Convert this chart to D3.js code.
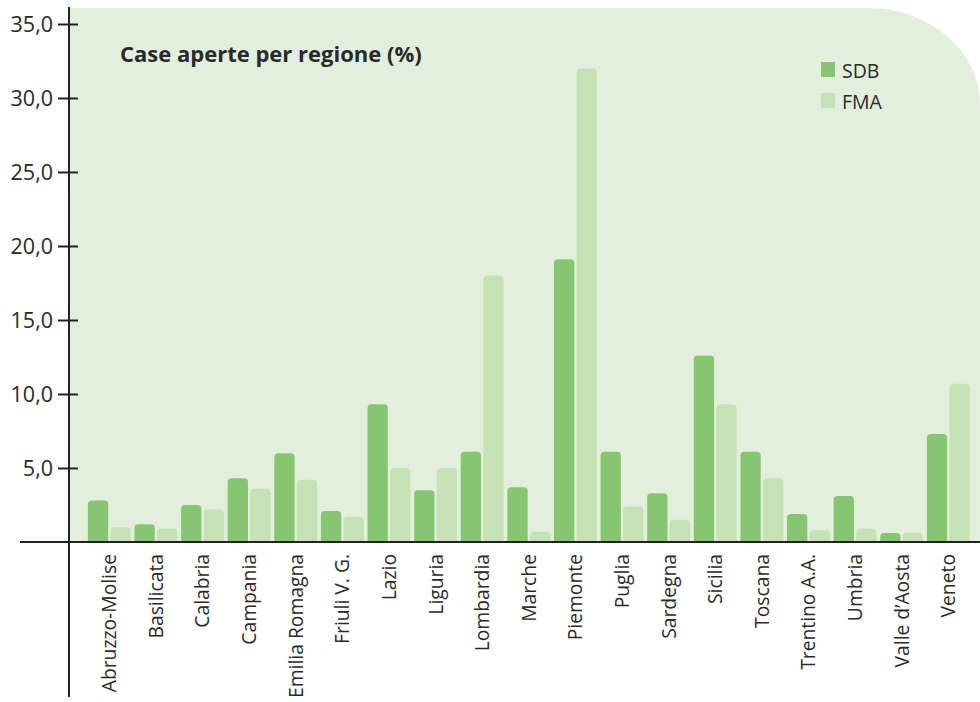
<!DOCTYPE html>
<html>
<head>
<meta charset="utf-8">
<script src="https://cdn.jsdelivr.net/npm/d3@7"></script>
<style>
  body { margin: 0; background: #fff; }
  svg { display: block; font-family: "Open Sans", sans-serif; }
</style>
</head>
<body>
<svg id="chart" width="980" height="702"></svg>
<script>
const regions = ["Abruzzo-Molise", "Basilicata", "Calabria", "Campania", "Emilia Romagna",
  "Friuli V. G.", "Lazio", "Liguria", "Lombardia", "Marche", "Piemonte", "Puglia",
  "Sardegna", "Sicilia", "Toscana", "Trentino A.A.", "Umbria", "Valle d\u2019Aosta", "Veneto"];
const sdb = [2.8, 1.2, 2.5, 4.3, 6.0, 2.1, 9.3, 3.5, 6.1, 3.7, 19.1, 6.1, 3.3, 12.6, 6.1, 1.9, 3.1, 0.6, 7.3];
const fma = [1.0, 0.9, 2.2, 3.6, 4.2, 1.7, 5.0, 5.0, 18.0, 0.7, 32.0, 2.4, 1.5, 9.3, 4.3, 0.8, 0.9, 0.6, 10.7];
const series = ["SDB", "FMA"];
const yTicks = [5, 10, 15, 20, 25, 30, 35];

const colors = { SDB: "#86c670", FMA: "#c4e2b4" };

const svg = d3.select("#chart");
const axisX = 69, baseY = 542;

const y = d3.scaleLinear().domain([0, 35]).range([baseY, 24]);
const x0 = d3.scaleBand().domain(regions).range([86, 86 + 19 * 46.61])
  .paddingInner(0.08).paddingOuter(0.04);
const x1 = d3.scaleBand().domain(series).range([0, x0.bandwidth()]).paddingInner(0.1);

// background panel with rounded top-right corner
const px0 = axisX + 1, py0 = 8, px1 = 980, rx = 112, ry = 96;
svg.append("path")
  .attr("d", `M${px0},${py0} H${px1 - rx} A${rx},${ry} 0 0 1 ${px1},${py0 + ry} V${baseY} H${px0} Z`)
  .attr("fill", "#e3efdd");

// bars with rounded tops
function barPath(bx, by, w, h, r) {
  r = Math.min(r, h, w / 2);
  return `M${bx},${by + h} V${by + r} Q${bx},${by} ${bx + r},${by} H${bx + w - r} Q${bx + w},${by} ${bx + w},${by + r} V${by + h} Z`;
}

const rows = regions.map((r, i) => ({ region: r, SDB: sdb[i], FMA: fma[i] }));
const g = svg.append("g").selectAll("g").data(rows).join("g")
  .attr("transform", d => `translate(${x0(d.region)},0)`);
g.selectAll("path").data(d => series.map(k => ({ key: k, value: d[k] }))).join("path")
  .attr("fill", d => colors[d.key])
  .attr("d", d => barPath(x1(d.key), y(d.value), x1.bandwidth(), baseY - y(d.value), 4));

// y axis
const yAxis = d3.axisLeft(y).tickValues(yTicks).tickSize(0)
  .tickFormat(d => d3.format(".1f")(d).replace(".", ","));
const ya = svg.append("g").attr("transform", `translate(${axisX},0)`).call(yAxis);
ya.select(".domain").remove();
ya.selectAll(".tick text").attr("x", -16).attr("dy", "0.35em")
  .style("font-size", "21.5px").attr("fill", "#2a2a2a").style("font-family", "Open Sans");
ya.selectAll(".tick").append("line").attr("x1", -11).attr("x2", 9)
  .attr("stroke", "#222").attr("stroke-width", 2);

svg.append("line").attr("x1", axisX).attr("x2", axisX).attr("y1", 7).attr("y2", 697)
  .attr("stroke", "#222").attr("stroke-width", 2);
svg.append("line").attr("x1", 20).attr("x2", 980).attr("y1", baseY).attr("y2", baseY)
  .attr("stroke", "#222").attr("stroke-width", 2);

// category labels
svg.append("g").selectAll("text").data(regions).join("text")
  .attr("transform", d => `translate(${x0(d) + x0.bandwidth() / 2},554) rotate(-90)`)
  .attr("text-anchor", "end").attr("dy", "0.36em")
  .style("font-size", "19.3px").attr("fill", "#2a2a2a")
  .text(d => d);

// title
svg.append("text").attr("x", 120).attr("y", 62)
  .style("font-size", "22px").style("font-weight", "bold").attr("fill", "#2a2a2a")
  .text("Case aperte per regione (%)");

// legend
const lg = svg.append("g").selectAll("g").data(series).join("g")
  .attr("transform", (d, i) => `translate(821,${62 + i * 31})`);
lg.append("rect").attr("width", 14).attr("height", 15).attr("fill", d => colors[d]);
lg.append("text").attr("x", 21).attr("y", 15.5)
  .style("font-size", "19.5px").attr("fill", "#2a2a2a").text(d => d);
</script>
</body>
</html>
